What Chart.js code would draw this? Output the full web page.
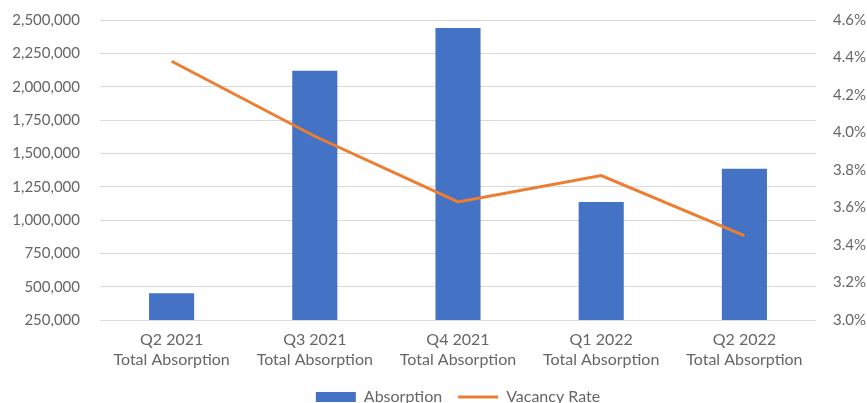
<!DOCTYPE html>
<html>
<head>
<meta charset="utf-8">
<script src="https://cdn.jsdelivr.net/npm/chart.js@4"></script>
<style>
    html, body { margin: 0; padding: 0; background: #fff; }
    #wrap { width: 867px; height: 403px; }
</style>
</head>
<body>
<div id="wrap"><canvas id="absorptionChart" width="867" height="403"></canvas></div>
<script>
// Datos del gráfico
const quarters = ['Q2 2021', 'Q3 2021', 'Q4 2021', 'Q1 2022', 'Q2 2022'];
const absorption = [450000, 2120000, 2440000, 1135000, 1385000];
const vacancyRate = [4.38, 3.98, 3.63, 3.77, 3.45];
const leftTicks = [250000, 500000, 750000, 1000000, 1250000, 1500000, 1750000, 2000000, 2250000, 2500000];
const rightTicks = [3.0, 3.2, 3.4, 3.6, 3.8, 4.0, 4.2, 4.4, 4.6];

const fontFamily = 'Lato, "Open Sans", sans-serif';
const tickFont = { family: fontFamily, size: 15 };
const catFont = { family: fontFamily, size: 16, lineHeight: 1.3 };
const textColor = '#666666';

// Ancho fijo de los ejes verticales, sin margen extra arriba
function fixAxis(width) {
    return scale => {
        scale.width = width;
        scale.paddingTop = 0;
        scale.paddingBottom = 0;
    };
}

// Centrar la leyenda sobre el área del gráfico (como Excel)
const legendOverPlot = {
    id: 'legendOverPlot',
    afterLayout(chart) {
        const legend = chart.legend;
        const shift = (chart.chartArea.left + chart.chartArea.right) / 2 - (legend.left + legend.right) / 2;
        legend.left += shift;
        legend.right += shift;
    }
};

new Chart(document.getElementById('absorptionChart'), {
    data: {
        labels: quarters.map(q => [q, 'Total Absorption']),
        datasets: [{
            type: 'bar',
            label: 'Absorption',
            data: absorption,
            backgroundColor: '#4472C4',
            yAxisID: 'y',
            order: 1,
            pointStyle: 'rect',
            barPercentage: 0.315,
            categoryPercentage: 1
        }, {
            type: 'line',
            label: 'Vacancy Rate',
            data: vacancyRate,
            borderColor: '#ED7D31',
            backgroundColor: '#ED7D31',
            borderWidth: 3,
            pointRadius: 0,
            pointStyle: 'line',
            tension: 0,
            yAxisID: 'y1',
            order: 0
        }]
    },
    options: {
        responsive: false,
        animation: false,
        layout: { padding: { top: 20, bottom: -12, left: 0, right: 0 } },
        plugins: {
            tooltip: { enabled: false },
            legend: {
                position: 'bottom',
                labels: {
                    usePointStyle: true,
                    pointStyleWidth: 40,
                    boxHeight: 10,
                    padding: 16,
                    color: textColor,
                    font: { family: fontFamily, size: 16 },
                    sort: (a, b) => a.datasetIndex - b.datasetIndex
                }
            }
        },
        scales: {
            x: {
                grid: { display: false, drawTicks: false },
                border: { display: false },
                ticks: { color: textColor, font: catFont, padding: 9, maxRotation: 0 },
                afterFit: scale => { scale.height = 53; }
            },
            y: {
                position: 'left',
                min: leftTicks[0],
                max: leftTicks[leftTicks.length - 1],
                afterBuildTicks: scale => { scale.ticks = leftTicks.map(v => ({ value: v })); },
                grid: { color: '#d9d9d9', lineWidth: 1, drawTicks: false },
                border: { display: false },
                ticks: {
                    color: textColor,
                    font: tickFont,
                    padding: 20,
                    callback: v => v.toLocaleString('en-US')
                },
                afterFit: fixAxis(100)
            },
            y1: {
                position: 'right',
                min: rightTicks[0],
                max: rightTicks[rightTicks.length - 1],
                afterBuildTicks: scale => { scale.ticks = rightTicks.map(v => ({ value: v })); },
                grid: { display: false, drawTicks: false },
                border: { display: false },
                ticks: {
                    color: textColor,
                    font: tickFont,
                    padding: 17,
                    callback: v => v.toFixed(1) + '%'
                },
                afterFit: fixAxis(51)
            }
        }
    },
    plugins: [legendOverPlot]
});
</script>
</body>
</html>
